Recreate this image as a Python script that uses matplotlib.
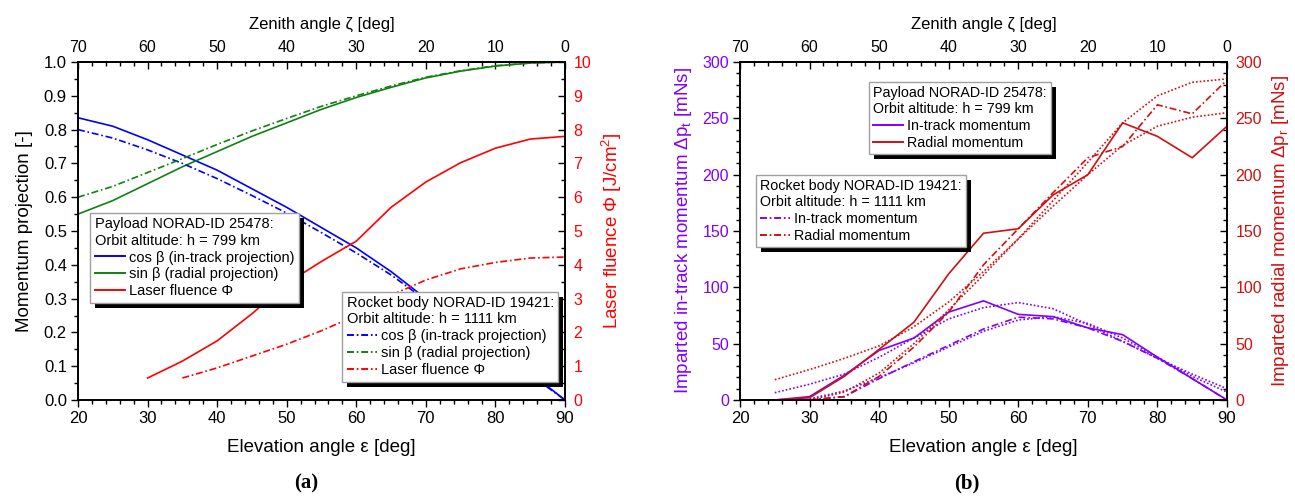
import matplotlib
matplotlib.use('Agg')
import matplotlib.pyplot as plt
from matplotlib.lines import Line2D
from matplotlib.patches import Rectangle
from matplotlib.ticker import MultipleLocator, FormatStrFormatter
from matplotlib.transforms import IdentityTransform

plt.rcParams['font.family'] = ['Liberation Sans', 'DejaVu Sans']
plt.rcParams['mathtext.fontset'] = 'custom'
plt.rcParams['mathtext.rm'] = 'Liberation Sans'
plt.rcParams['mathtext.it'] = 'Liberation Sans:italic'
plt.rcParams['lines.scale_dashes'] = False

# ---------------- data: panel (a) ----------------
elev_a = [20, 25, 30, 35, 40, 45, 50, 55, 60, 65, 70, 75, 80, 85, 90]
cos_payload = [0.835, 0.81, 0.77, 0.725, 0.68, 0.625, 0.57, 0.51, 0.45, 0.38, 0.30, 0.23, 0.155, 0.08, 0.0]
sin_payload = [0.55, 0.59, 0.64, 0.69, 0.735, 0.78, 0.82, 0.86, 0.895, 0.925, 0.953, 0.973, 0.988, 0.997, 1.0]
cos_rocket = [0.80, 0.775, 0.74, 0.70, 0.655, 0.605, 0.553, 0.495, 0.435, 0.37, 0.295, 0.225, 0.15, 0.075, 0.0]
sin_rocket = [0.60, 0.632, 0.673, 0.714, 0.756, 0.796, 0.833, 0.869, 0.90, 0.929, 0.955, 0.974, 0.989, 0.997, 1.0]
elev_flu_payload = [30, 35, 40, 45, 50, 55, 60, 65, 70, 75, 80, 85, 90]
flu_payload = [0.65, 1.15, 1.75, 2.55, 3.45, 4.1, 4.7, 5.7, 6.45, 7.02, 7.45, 7.72, 7.8]
elev_flu_rocket = [35, 40, 45, 50, 55, 60, 65, 70, 75, 80, 85, 90]
flu_rocket = [0.65, 0.95, 1.3, 1.65, 2.05, 2.5, 3.1, 3.55, 3.88, 4.07, 4.2, 4.23]

# ---------------- data: panel (b) ----------------
elev_b_payload = [25, 30, 35, 40, 45, 50, 55, 60, 65, 70, 75, 80, 85, 90]
intrack_payload = [0, 3, 22, 44, 55, 78, 88, 76, 74, 64, 58, 38, 19, 0]
radial_payload = [0, 2, 21, 45, 69, 112, 148, 152, 182, 200, 246, 234, 215, 243]
fit_intrack_payload = [6.5, 14, 23, 38, 55, 72, 82, 86.5, 81, 67, 52, 37, 23, 10]
fit_radial_payload = [18, 27, 37, 48, 65, 87, 114, 143, 172, 200, 226, 243, 251, 255]
elev_b_rocket = [30, 35, 40, 45, 50, 55, 60, 65, 70, 75, 80, 85, 90]
intrack_rocket = [0, 3, 19, 34, 48.5, 63, 73.5, 72, 64, 52, 37, 19, 0]
radial_rocket = [0, 3, 21, 47, 78, 120, 152, 184, 215, 225, 262, 254, 284]
fit_intrack_rocket = [1, 8, 20, 33, 47, 61, 71, 74, 68, 55, 38, 21, 7]
fit_radial_rocket = [0, 7, 24, 50, 80, 111, 143, 177, 211, 246, 270, 282, 285]

zenith_ticks = [70, 60, 50, 40, 30, 20, 10, 0]

BLUE = '#0000FF'
GREEN = '#108010'
RED_A = '#FF0000'
PURPLE = '#8000FF'
RED_B = '#D01010'
SOLID = '-'
DASHDOT = (0, (5, 2, 1.2, 2))
DOTTED = (0, (1.2, 1.5))
LW = 1.2

W, H = 1295, 498
fig = plt.figure(figsize=(W / 100, H / 100), dpi=100)


def px_axes(x0, x1, y0, y1):
    return fig.add_axes([x0 / W, 1 - y1 / H, (x1 - x0) / W, (y1 - y0) / H])


def style_axes(ax, ax2, fs_main, fs_sec):
    ax.set_xlim(20, 90)
    ax.xaxis.set_major_locator(MultipleLocator(10))
    ax.xaxis.set_minor_locator(MultipleLocator(2))
    ax.tick_params(axis='x', which='major', direction='out', length=5, width=1, labelsize=fs_main, pad=3)
    ax.tick_params(axis='x', which='minor', direction='out', length=3, width=1)
    ax.tick_params(axis='y', which='major', direction='out', length=5, width=1, pad=3)
    ax.tick_params(axis='y', which='minor', direction='out', length=3, width=1)
    ax.tick_params(top=False, right=False, which='both')
    ax2.tick_params(axis='y', which='major', direction='in', length=5, width=1, pad=6, labelsize=fs_sec)
    ax2.tick_params(axis='y', which='minor', direction='in', length=3, width=1)
    for a in (ax, ax2):
        for s in a.spines.values():
            s.set_linewidth(1.2)
    top = ax.secondary_xaxis('top', functions=(lambda e: 90 - e, lambda z: 90 - z))
    top.set_xticks(zenith_ticks)
    top.xaxis.set_minor_locator(MultipleLocator(2))
    top.tick_params(axis='x', which='major', direction='in', length=5, width=1, labelsize=fs_sec, pad=5)
    top.tick_params(axis='x', which='minor', direction='in', length=3, width=1)
    top.spines['top'].set_linewidth(1.2)
    top.set_xlabel('Zenith angle ζ [deg]', fontsize=12, labelpad=8)
    ax.set_xlabel('Elevation angle ε [deg]', fontsize=13.5, labelpad=9)
    return top


def make_legend(ax, title, entries, anchor, fs):
    handles = [Line2D([], [], color=c, lw=LW + 0.2, linestyle=ls) for c, ls, _ in entries]
    labels = [lab for _, _, lab in entries]
    leg = ax.legend(handles, labels, title=title, loc='upper left', bbox_to_anchor=anchor,
                    bbox_transform=ax.transAxes, borderaxespad=0, fontsize=fs, title_fontsize=fs,
                    alignment='left', frameon=True, fancybox=False, edgecolor='#a0a0a0',
                    framealpha=1, borderpad=0.3, handlelength=2.1, handletextpad=0.25,
                    labelspacing=0.2)
    leg.get_frame().set_linewidth(1.0)
    leg.set_zorder(10)
    return leg


# ================= panel (a) =================
axA = px_axes(78, 565, 62, 400)
axA2 = axA.twinx()
style_axes(axA, axA2, 12, 11.5)
axA.set_ylim(0, 1.0)
axA.yaxis.set_major_locator(MultipleLocator(0.1))
axA.yaxis.set_minor_locator(MultipleLocator(0.05))
axA.yaxis.set_major_formatter(FormatStrFormatter('%.1f'))
axA.tick_params(axis='y', labelsize=12)
axA2.set_ylim(0, 10)
axA2.yaxis.set_major_locator(MultipleLocator(1))
axA2.yaxis.set_minor_locator(MultipleLocator(0.5))
axA2.tick_params(axis='y', labelcolor=RED_A)
axA.set_ylabel('Momentum projection [-]', fontsize=13.5, labelpad=8)
axA2.set_ylabel('Laser fluence Φ [J/cm$^2$]', fontsize=13.5, color=RED_A, labelpad=6)

axA.plot(elev_a, cos_payload, color=BLUE, lw=LW, linestyle=SOLID)
axA.plot(elev_a, sin_payload, color=GREEN, lw=LW, linestyle=SOLID)
axA.plot(elev_a, cos_rocket, color=BLUE, lw=LW, linestyle=DASHDOT)
axA.plot(elev_a, sin_rocket, color=GREEN, lw=LW, linestyle=DASHDOT)
axA2.plot(elev_flu_payload, flu_payload, color=RED_A, lw=LW, linestyle=SOLID)
axA2.plot(elev_flu_rocket, flu_rocket, color=RED_A, lw=LW, linestyle=DASHDOT)

legA1 = make_legend(axA2, 'Payload NORAD-ID 25478:\nOrbit altitude: h = 799 km',
                    [(BLUE, SOLID, 'cos β (in-track projection)'),
                     (GREEN, SOLID, 'sin β (radial projection)'),
                     (RED_A, SOLID, 'Laser fluence Φ')], (0.025, 0.553), 10.5)
axA2.add_artist(legA1)
legA2 = make_legend(axA2, 'Rocket body NORAD-ID 19421:\nOrbit altitude: h = 1111 km',
                    [(BLUE, DASHDOT, 'cos β (in-track projection)'),
                     (GREEN, DASHDOT, 'sin β (radial projection)'),
                     (RED_A, DASHDOT, 'Laser fluence Φ')], (0.543, 0.320), 10.5)

# ================= panel (b) =================
axB = px_axes(740, 1227, 62, 400)
axB2 = axB.twinx()
style_axes(axB, axB2, 12, 11.5)
for a in (axB, axB2):
    a.set_ylim(0, 300)
    a.yaxis.set_major_locator(MultipleLocator(50))
    a.yaxis.set_minor_locator(MultipleLocator(10))
axB.tick_params(axis='y', labelsize=11.5, labelcolor=PURPLE)
axB2.tick_params(axis='y', labelcolor=RED_B)
axB.set_ylabel(r'Imparted in-track momentum Δp$_\mathrm{t}$ [mNs]', fontsize=13.5, color=PURPLE, labelpad=6)
axB2.set_ylabel(r'Imparted radial momentum Δp$_\mathrm{r}$ [mNs]', fontsize=13.5, color=RED_B, labelpad=6)

axB.plot(elev_b_payload, fit_intrack_payload, color=PURPLE, lw=LW, linestyle=DOTTED)
axB.plot(elev_b_rocket, fit_intrack_rocket, color=PURPLE, lw=LW, linestyle=DOTTED)
axB.plot(elev_b_payload, intrack_payload, color=PURPLE, lw=LW, linestyle=SOLID)
axB.plot(elev_b_rocket, intrack_rocket, color=PURPLE, lw=LW, linestyle=DASHDOT)
axB2.plot(elev_b_payload, fit_radial_payload, color=RED_B, lw=LW, linestyle=DOTTED)
axB2.plot(elev_b_rocket, fit_radial_rocket, color=RED_B, lw=LW, linestyle=DOTTED)
axB2.plot(elev_b_payload, radial_payload, color=RED_B, lw=LW, linestyle=SOLID)
axB2.plot(elev_b_rocket, radial_rocket, color=RED_B, lw=LW, linestyle=DASHDOT)

legB1 = make_legend(axB2, 'Payload NORAD-ID 25478:\nOrbit altitude: h = 799 km',
                    [(PURPLE, SOLID, 'In-track momentum'),
                     (RED_B, SOLID, 'Radial momentum')], (0.265, 0.941), 10.3)
axB2.add_artist(legB1)
legB2 = make_legend(axB2, 'Rocket body NORAD-ID 19421:\nOrbit altitude: h = 1111 km',
                    [(PURPLE, DASHDOT, 'In-track momentum'),
                     (RED_B, DASHDOT, 'Radial momentum')], (0.033, 0.666), 10.3)

fig.text(306 / W, 1 - 483 / H, '(a)', ha='center', va='center', fontsize=15,
         family='Liberation Serif', weight='bold')
fig.text(967 / W, 1 - 483 / H, '(b)', ha='center', va='center', fontsize=15,
         family='Liberation Serif', weight='bold')

# black offset shadows behind legends
fig.canvas.draw()
for ax_, leg in ((axA2, legA1), (axA2, legA2), (axB2, legB1), (axB2, legB2)):
    bb = leg.get_frame().get_window_extent()
    rect = Rectangle((bb.x0 + 5, bb.y0 - 5), bb.width, bb.height, transform=IdentityTransform(),
                     facecolor='black', edgecolor='none', zorder=9, clip_on=False)
    ax_.add_patch(rect)

fig.savefig('out.png', dpi=100)
